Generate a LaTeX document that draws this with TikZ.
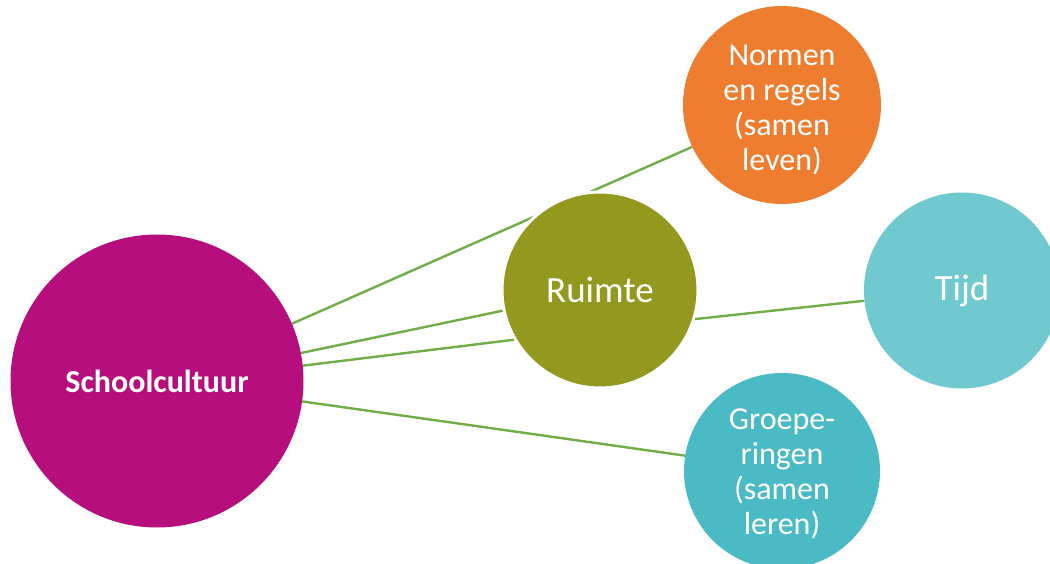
\documentclass[tikz,border=0pt]{standalone}
\usepackage{fontspec}
\setmainfont{Carlito}
\pgfdeclarelayer{behind}
\pgfsetlayers{behind,main}
\definecolor{cmag}{HTML}{B70E7D}
\definecolor{colive}{HTML}{93981F}
\definecolor{corange}{HTML}{EE7D2F}
\definecolor{ctijd}{HTML}{71C9D0}
\definecolor{cgroep}{HTML}{4ABAC5}
\definecolor{clink}{HTML}{70AD47}
\begin{document}
\begin{tikzpicture}[x=1pt,y=-1pt,
  bubble/.style={circle,inner sep=0pt,minimum size=196pt,text=white,align=center,font=\fontsize{32}{35}\selectfont},
  bubbletext/.style={inner sep=0pt,text=white,align=center,font=\fontsize{32}{35}\selectfont},
  bigtext/.style={font=\fontsize{37}{40}\selectfont},
  link/.style={draw=clink,line width=2.4pt}]
\useasboundingbox (0,0) rectangle (1050,564);
\clip (0,0) rectangle (1050,564);
\node[bubble,fill=cmag,minimum size=293pt,font=\bfseries\fontsize{32}{36}\selectfont] (sc) at (157,381) {Schoolcultuur};
\node[bubble,fill=colive,draw=white,line width=3pt,bigtext] (ru) at (600,290) {Ruimte};
\node[bubble,fill=corange,minimum size=198pt] (nr) at (782,105) {};
\node[bubbletext] (nrt) at ([yshift=-5pt]nr.center) {Normen\\en regels\\(samen\\leven)};
\node[bubble,fill=ctijd,bigtext] (tijd) at (962,290.5) {Tijd};
\node[bubble,fill=cgroep] (gr) at (782,471) {};
\node[bubbletext] (grt) at ([yshift=-3pt]gr.center) {Groepe-\\ringen\\(samen\\leren)};
\begin{pgfonlayer}{behind}
\draw[link] (sc.23.3) -- (nr.205.6);
\end{pgfonlayer}
\draw[link] (sc.11.3) -- (ru.192.1);
\draw[link] (sc.6.2) -- (ru.210.4);
\draw[link] (sc.-8.5) -- (gr.171.9);
\draw[link] (ru.-17.7) -- (tijd.186.1);
\end{tikzpicture}
\end{document}
